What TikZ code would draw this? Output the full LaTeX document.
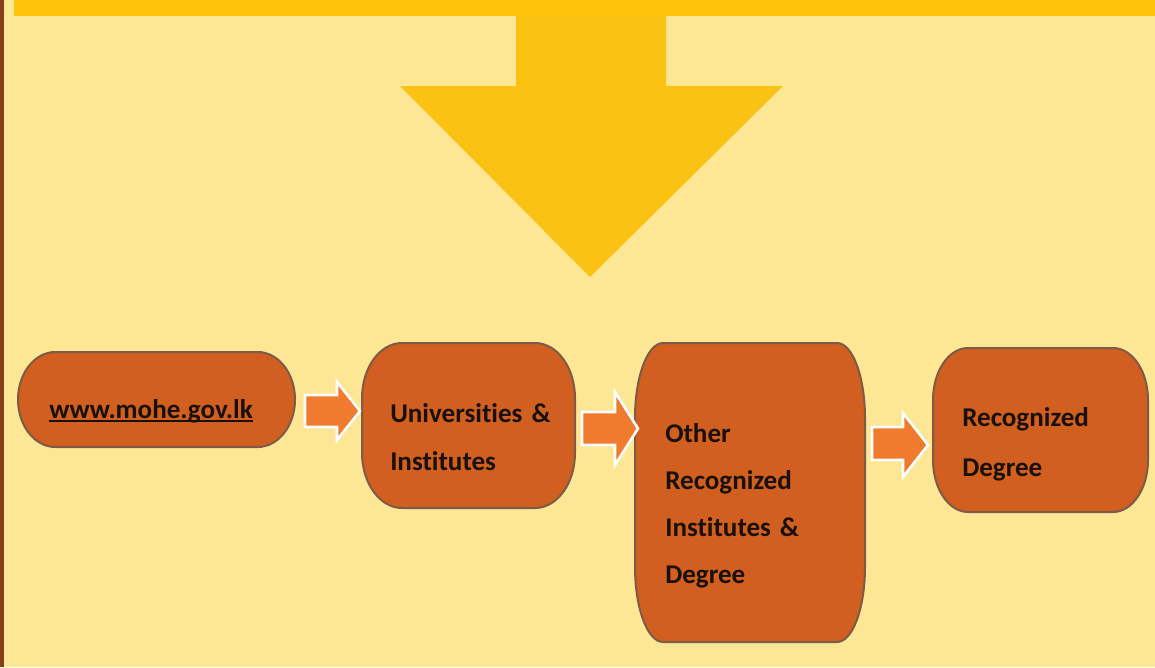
\documentclass[tikz,border=0pt]{standalone}
\usepackage{fontspec}
\setmainfont{Carlito}[Ligatures=NoCommon]
\usetikzlibrary{calc}
\definecolor{bg}{HTML}{FDE795}
\definecolor{band}{HTML}{FFC40A}
\definecolor{bigarrow}{HTML}{FBC113}
\definecolor{strip}{HTML}{85401B}
\definecolor{boxfill}{HTML}{D15F1F}
\definecolor{boxline}{HTML}{7E5A48}
\definecolor{smallarr}{HTML}{F07A2E}
\definecolor{ink}{HTML}{1A1008}
\tikzset{
  boxnode/.style={draw=none, inner sep=0pt, outer sep=0pt},
  boxshape/.style={fill=boxfill, draw=boxline, line width=1.5pt},
  urltext/.style={anchor=base west, inner sep=0pt, text=ink, font=\bfseries\fontsize{20.3}{36}\selectfont},
  boxtext/.style={anchor=base west, inner sep=0pt, text width=150pt, align=left, text=ink, font=\bfseries\fontsize{20.3}{36}\selectfont},
  smallarrow/.style={fill=smallarr, draw=white, line width=2pt, line join=miter},
}
\newcommand\mybarrel[3]{%
  \path[boxshape] ([xshift=#2]#1.north west) -- ([xshift=-#2]#1.north east)
    arc[start angle=90,end angle=0,x radius=#2,y radius=#3]
    -- ([yshift=#3]#1.south east)
    arc[start angle=0,end angle=-90,x radius=#2,y radius=#3]
    -- ([xshift=#2]#1.south west)
    arc[start angle=270,end angle=180,x radius=#2,y radius=#3]
    -- ([yshift=-#3]#1.north west)
    arc[start angle=180,end angle=90,x radius=#2,y radius=#3] -- cycle;}
\begin{document}
\begin{tikzpicture}[x=0.75pt,y=-0.75pt]
\useasboundingbox (0,0) rectangle (1155,667);
\fill[bg] (0,0) rectangle (1155,667);
\fill[strip] (0,0) rectangle (4,667);
\fill[band] (14,0) rectangle (1155,16);
\fill[bigarrow] (516,16) -- (666,16) -- (666,86) -- (783,86) -- (590,277) -- (400,86) -- (516,86) -- cycle;

\node[boxnode, minimum width=207.75pt, minimum height=71.25pt] (b1) at (156.5,399.5) {};
\node[boxnode, minimum width=159.75pt, minimum height=123.75pt] (b2) at (468.5,425.5) {};
\node[boxnode, minimum width=172.5pt, minimum height=224.25pt] (b3) at (750,492.5) {};
\node[boxnode, minimum width=161.25pt, minimum height=123pt] (b4) at (1040.5,430) {};

\mybarrel{b1}{28pt}{35.6pt}
\mybarrel{b2}{30pt}{41.25pt}
\mybarrel{b3}{21pt}{56.25pt}
\mybarrel{b4}{26.25pt}{39pt}

\draw[smallarrow] ($(b1.east |- 0,395)+(10,0)$) -- (337,395) -- (337,382)
  -- ($(b2.west |- 0,411)+(-2,0)$) -- (337,440) -- (337,427)
  -- ($(b1.east |- 0,427)+(10,0)$) -- cycle;
\draw[smallarrow] ($(b2.east |- 0,412)+(7,0)$) -- (615,412) -- (615,392)
  -- ($(b3.west |- 0,428.5)+(3,0)$) -- (615,465) -- (615,445)
  -- ($(b2.east |- 0,445)+(7,0)$) -- cycle;
\draw[smallarrow] ($(b3.east |- 0,427)+(7,0)$) -- (903,427) -- (903,413)
  -- ($(b4.west |- 0,445)+(-5,0)$) -- (903,477) -- (903,460)
  -- ($(b3.east |- 0,460)+(7,0)$) -- cycle;

\node[urltext] (t1) at (49,418) {www.mohe.gov.lk};
\draw[ink, line width=1.5pt] ($(t1.base west)+(0,3)$) -- ($(t1.base east)+(0,3)$);
\node[boxtext] (t2) at (390,422) {Universities \&\\Institutes};
\node[boxtext, font=\bfseries\fontsize{20.3}{35.25}\selectfont] (t3) at (665,442) {Other\\Recognized\\Institutes \&\\Degree};
\node[boxtext, font=\bfseries\fontsize{20.3}{37.5}\selectfont] (t4) at (962,426) {Recognized\\Degree};
\end{tikzpicture}
\end{document}
